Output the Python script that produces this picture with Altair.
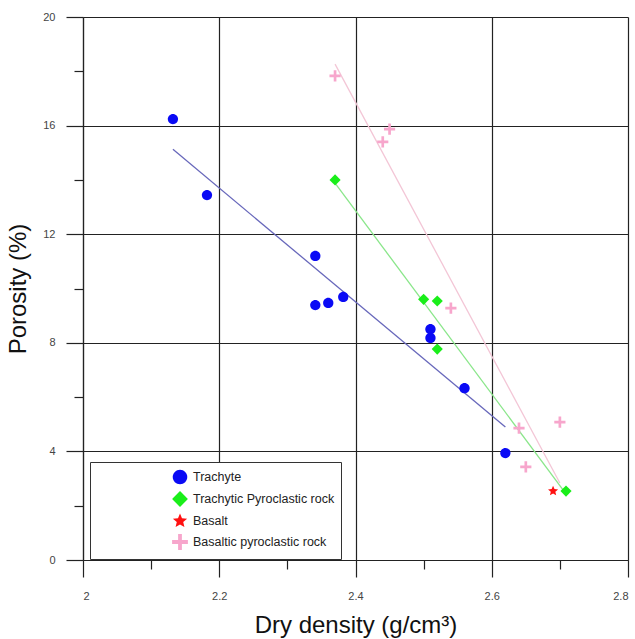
import altair as alt
import pandas as pd

groups = ["Trachyte", "Trachytic Pyroclastic rock", "Basalt", "Basaltic pyroclastic rock"]

trachyte_density = [2.132, 2.182, 2.341, 2.341, 2.360, 2.382, 2.510, 2.510, 2.560, 2.620]
trachyte_porosity = [16.24, 13.44, 11.20, 9.39, 9.47, 9.69, 8.50, 8.18, 6.33, 3.94]
tpr_density = [2.370, 2.500, 2.520, 2.520, 2.709]
tpr_porosity = [14.00, 9.60, 9.54, 7.77, 2.54]
basalt_density = [2.690]
basalt_porosity = [2.54]
bpr_density = [2.370, 2.450, 2.440, 2.540, 2.640, 2.650, 2.700]
bpr_porosity = [17.83, 15.87, 15.40, 9.28, 4.86, 3.43, 5.08]

# major and minor tick positions
x_ticks = [2.0, 2.1, 2.2, 2.3, 2.4, 2.5, 2.6, 2.7, 2.8]
y_ticks = [0, 2, 4, 6, 8, 10, 12, 14, 16, 18, 20]

point_colors = ["#0a0af5", "#1aee1a", "#ff1010", "#f7a6cc"]
line_colors = ["#6868bb", "#8ae68a", "#f3c6d6"]
plus_path = "M-0.24,-1H0.24V-0.24H1V0.24H0.24V1H-0.24V0.24H-1V-0.24H-0.24Z"
star_path = ("M0,-0.95L0.2513,-0.3459L0.9035,-0.2936L0.4066,0.1321L0.5584,0.7686L0,0.4275"
             "L-0.5584,0.7686L-0.4066,0.1321L-0.9035,-0.2936L-0.2513,-0.3459Z")
circle_path = "M0.92,0A0.92,0.92,0,1,1,-0.92,0A0.92,0.92,0,1,1,0.92,0Z"
shapes = [circle_path, "diamond", star_path, plus_path]

rows = []
for g, xs, ys in [
    (groups[0], trachyte_density, trachyte_porosity),
    (groups[1], tpr_density, tpr_porosity),
    (groups[2], basalt_density, basalt_porosity),
    (groups[3], bpr_density, bpr_porosity),
]:
    for a, b in zip(xs, ys):
        rows.append({"group": g, "density": a, "porosity": b})
df = pd.DataFrame(rows)

FONT = "Liberation Sans"
xscale = alt.Scale(domain=[2.0, 2.8], nice=False, zero=False)
yscale = alt.Scale(domain=[0, 20], nice=False)

x_minor_test = "round(datum.value * 10) % 2 == 1"
y_minor_test = "round(datum.value) % 4 == 2"


def make_axis(test, orient, label_pad):
    return alt.Axis(
        values=x_ticks if orient == "bottom" else y_ticks,
        labelExpr=f"{test} ? '' : datum.label",
        format="~g",
        grid=True, gridColor="#222",
        gridOpacity={"condition": {"test": test, "value": 0}, "value": 1},
        gridWidth=1.2,
        tickSize={"condition": {"test": test, "value": 9}, "value": 17},
        tickColor="#222", tickWidth=1.2, domainColor="#222", domainWidth=1.2,
        labelFontSize=11, labelColor="#444", labelPadding=label_pad, labelFont=FONT,
        titleFontSize=24, titleFontWeight="normal", titlePadding=12, titleColor="#111",
        titleFont=FONT, orient=orient,
    )


xaxis = make_axis(x_minor_test, "bottom", 13)
yaxis = make_axis(y_minor_test, "left", 11)

legend = alt.Legend(title=None, orient="none", legendX=7, legendY=445, fillColor="white",
                    strokeColor="#333", padding=6, symbolSize=250, symbolOffset=75,
                    labelOffset=4, labelFontSize=12.5, labelFont=FONT, labelColor="#222",
                    rowPadding=0, cornerRadius=0, symbolOpacity=1)

points = alt.Chart(df).mark_point(filled=True, opacity=1, size=125).encode(
    x=alt.X("density:Q", scale=xscale, axis=xaxis, title="Dry density (g/cm³)"),
    y=alt.Y("porosity:Q", scale=yscale, axis=yaxis, title="Porosity (%)"),
    color=alt.Color("group:N", scale=alt.Scale(domain=groups, range=point_colors), legend=legend),
    shape=alt.Shape("group:N", scale=alt.Scale(domain=groups, range=shapes), legend=legend),
)

line_layers = []
for g, c in zip([groups[0], groups[1], groups[3]], line_colors):
    line_layers.append(
        alt.Chart(df)
        .transform_filter(alt.datum.group == g)
        .transform_regression("density", "porosity")
        .mark_line(color=c, strokeWidth=1.3)
        .encode(x=alt.X("density:Q", scale=xscale),
                y=alt.Y("porosity:Q", scale=yscale))
    )

chart = (
    alt.layer(*line_layers, points)
    .properties(width=545, height=543, padding={"left": 83, "top": 17, "right": 7, "bottom": 79},
                autosize=alt.AutoSizeParams(type="none"), background="white")
    .configure_view(stroke="transparent")
)

chart.save("out.html", embed_options={"renderer": "svg", "actions": False})
